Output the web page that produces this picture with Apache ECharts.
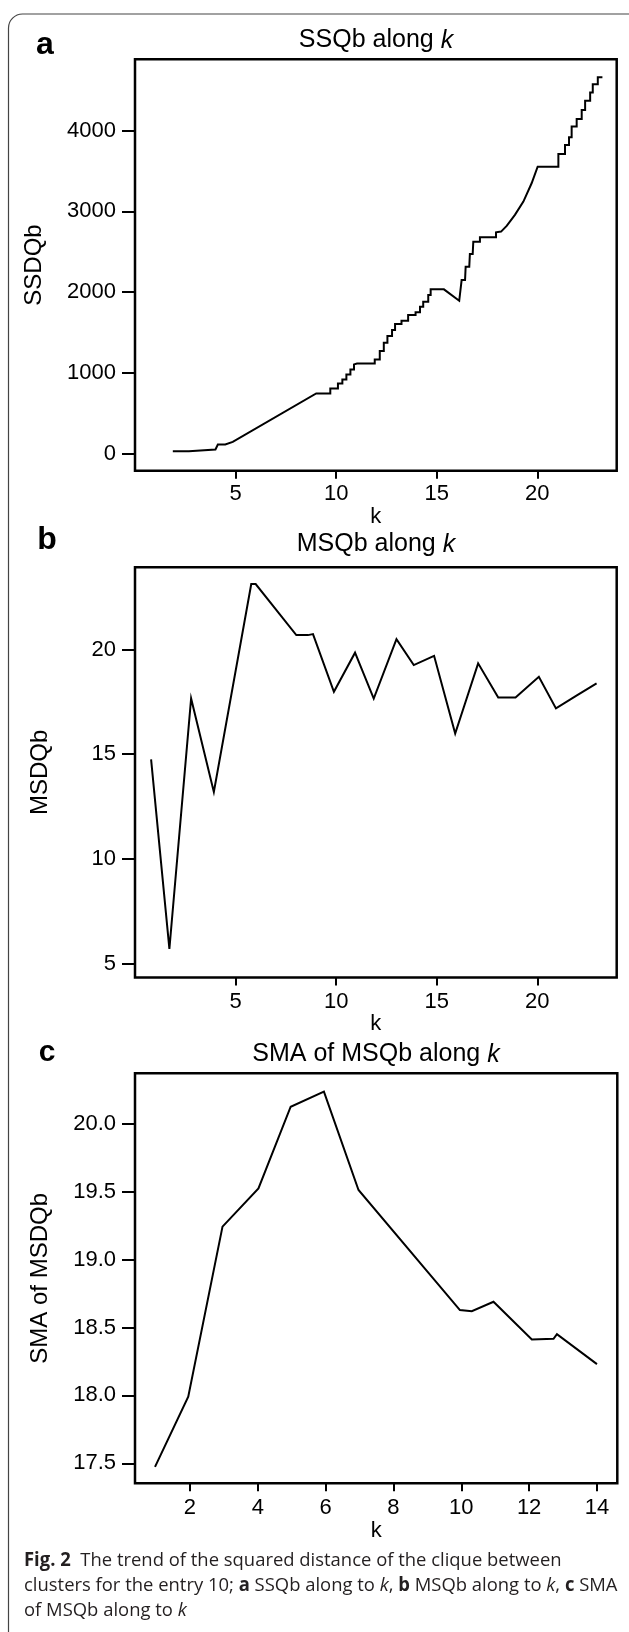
<!DOCTYPE html>
<html>
<head>
<meta charset="utf-8">
<title>SSQb, MSQb and SMA along k</title>
<script src="https://cdn.jsdelivr.net/npm/echarts@6.0.0/dist/echarts.min.js"></script>
<style>
  html, body { margin: 0; padding: 0; background: #fff; }
  #chart { width: 629px; height: 1632px; }
</style>
</head>
<body>
<div id="chart"></div>
<script>
// ---- data ----
// a: SSQb along k (step curve)
var kA = [1.88, 2.68, 2.71, 4.0, 4.12, 4.49, 4.86, 9.01, 9.71, 9.71, 10.09, 10.09, 10.31, 10.31, 10.51, 10.51,
  10.71, 10.71, 10.89, 10.89, 11.04, 11.92, 11.92, 12.17, 12.17, 12.37, 12.37, 12.55, 12.55, 12.78, 12.78,
  12.93, 12.93, 13.25, 13.25, 13.58, 13.58, 13.95, 13.95, 14.17, 14.17, 14.33, 14.33, 14.58, 14.58, 14.70,
  14.70, 15.36, 16.12, 16.24, 16.41, 16.44, 16.62, 16.65, 16.79, 16.82, 17.15, 17.15, 17.95, 17.95, 18.20,
  18.48, 18.89, 19.31, 19.72, 20.02, 21.05, 21.05, 21.38, 21.38, 21.58, 21.58, 21.71, 21.71, 21.96, 21.96,
  22.21, 22.21, 22.38, 22.38, 22.63, 22.63, 22.76, 22.76, 23.01, 23.01, 23.24];
var ssqA = [28, 28, 49, 49, 111, 111, 144, 744, 744, 806, 806, 868, 868, 918, 918, 980,
  980, 1042, 1042, 1104, 1116, 1116, 1166, 1166, 1269, 1269, 1373, 1373, 1455, 1455, 1530,
  1530, 1604, 1604, 1645, 1645, 1716, 1716, 1749, 1749, 1819, 1819, 1881, 1881, 1964, 1964,
  2034, 2034, 1893, 2149, 2149, 2315, 2315, 2472, 2472, 2625, 2625, 2679, 2679, 2741, 2750,
  2820, 2957, 3122, 3349, 3555, 3555, 3712, 3712, 3824, 3824, 3919, 3919, 4051, 4051, 4146,
  4146, 4258, 4258, 4370, 4370, 4473, 4473, 4576, 4576, 4663, 4663];

// b: MSQb along k
var kB = [0.80, 1.71, 2.79, 3.92, 5.78, 6.00, 8.02, 8.60, 8.85, 9.89, 10.94, 11.87, 13.00, 13.86,
  14.87, 15.92, 17.06, 18.06, 18.92, 20.08, 20.93, 21.99, 22.95];
var msqB = [14.75, 5.70, 17.66, 13.20, 23.13, 23.13, 20.69, 20.69, 20.74, 17.98, 19.85, 17.66, 20.50, 19.26,
  19.70, 15.99, 19.34, 17.71, 17.71, 18.70, 17.19, 17.82, 18.38];

// c: SMA of MSQb along k
var kC = [0.97, 1.95, 2.96, 4.02, 4.97, 5.95, 6.97, 9.96, 10.31, 10.95, 12.08, 12.72, 12.82, 14.00];
var smaC = [17.474, 17.99, 19.242, 19.524, 20.125, 20.236, 19.512, 18.628, 18.62, 18.689, 18.412, 18.417,
  18.451, 18.23];

// tick values
var xTicksAB = [5, 10, 15, 20];
var xTicksC = [2, 4, 6, 8, 10, 12, 14];
var yTicksA = [0, 1000, 2000, 3000, 4000];
var yTicksB = [5, 10, 15, 20];
var yTicksC = [17.5, 18.0, 18.5, 19.0, 19.5, 20.0];

var FONT = "'Liberation Sans', Arial, Helvetica, sans-serif";
var CAP_FONT = "'Open Sans', 'Noto Sans', sans-serif";

function pairs(xs, ys) {
  return xs.map(function (x, i) { return [x, ys[i]]; });
}

function xAxisFor(idx, min, max, ticks, margin, gap) {
  return {
    type: 'value', gridIndex: idx, min: min, max: max,
    name: 'k', nameLocation: 'middle', nameGap: gap,
    nameTextStyle: { fontFamily: FONT, fontSize: 22, color: '#000' },
    axisLine: { show: false, onZero: false },
    axisTick: { show: true, length: 8, customValues: ticks, lineStyle: { color: '#000', width: 2 } },
    axisLabel: { customValues: ticks, margin: margin, fontFamily: FONT, fontSize: 22, color: '#000' },
    splitLine: { show: false }
  };
}

function yAxisFor(idx, min, max, ticks, name, gap, fmt) {
  return {
    type: 'value', gridIndex: idx, min: min, max: max,
    name: name, nameLocation: 'middle', nameGap: gap, nameRotate: 90,
    nameTextStyle: { fontFamily: FONT, fontSize: 24, color: '#000' },
    axisLine: { show: false, onZero: false },
    axisTick: { show: true, length: 13, customValues: ticks, lineStyle: { color: '#000', width: 2 } },
    axisLabel: { customValues: ticks, margin: 19, fontFamily: FONT, fontSize: 22, color: '#000', formatter: fmt },
    splitLine: { show: false }
  };
}

function lineSeries(idx, data) {
  return {
    type: 'line', xAxisIndex: idx, yAxisIndex: idx, data: data,
    showSymbol: false, symbol: 'none', silent: true,
    lineStyle: { color: '#000', width: 2, join: 'miter' }
  };
}

function label(text, x, y, size, weight) {
  return {
    type: 'text', x: x, y: y, silent: true,
    style: {
      text: text, fill: '#000', fontFamily: FONT, fontSize: size, fontWeight: weight || 'normal',
      align: 'center', verticalAlign: 'middle',
      rich: { i: { fontStyle: 'italic', fontFamily: FONT, fontSize: size, fill: '#000' } }
    }
  };
}

var capRich = {
  b: { fontWeight: 'bold', fontFamily: CAP_FONT, fontSize: 19, fill: '#231f20' },
  i: { fontStyle: 'italic', fontFamily: CAP_FONT, fontSize: 19, fill: '#231f20' }
};

function captionLine(text, y) {
  return {
    type: 'text', x: 24, y: y, scaleX: 0.97, silent: true,
    style: {
      text: text, fill: '#231f20', fontFamily: CAP_FONT, fontSize: 19,
      align: 'left', verticalAlign: 'middle', rich: capRich
    }
  };
}

var chart = echarts.init(document.getElementById('chart'), null, { renderer: 'canvas' });

var gridStyle = { show: true, borderColor: '#000', borderWidth: 2.5, backgroundColor: 'transparent' };

chart.setOption({
  animation: false,
  backgroundColor: '#fff',
  grid: [
    Object.assign({ left: 135, top: 59.3, width: 481.7, height: 411.4 }, gridStyle),
    Object.assign({ left: 135, top: 567.3, width: 481.7, height: 410.2 }, gridStyle),
    Object.assign({ left: 135, top: 1073.3, width: 482.3, height: 410 }, gridStyle)
  ],
  xAxis: [
    xAxisFor(0, 0, 23.95, xTicksAB, 12, 30),
    xAxisFor(1, 0, 23.95, xTicksAB, 13, 30.5),
    xAxisFor(2, 0.38, 14.6, xTicksC, 14, 36)
  ],
  yAxis: [
    yAxisFor(0, -213, 4885, yTicksA, 'SSDQb', 89, function (v) { return String(v); }),
    yAxisFor(1, 4.33, 23.93, yTicksB, 'MSDQb', 83, function (v) { return String(v); }),
    yAxisFor(2, 17.353, 20.371, yTicksC, 'SMA of MSDQb', 83, function (v) { return v.toFixed(1); })
  ],
  series: [
    lineSeries(0, pairs(kA, ssqA)),
    lineSeries(1, pairs(kB, msqB)),
    lineSeries(2, pairs(kC, smaC))
  ],
  graphic: [
    // rounded frame of the figure box
    {
      type: 'rect', silent: true, z: -10,
      shape: { x: 8.5, y: 14, width: 700, height: 1700, r: 14 },
      style: { fill: 'none', stroke: '#444', lineWidth: 1.2 }
    },
    // panel titles
    label('SSQb along {i|k}', 376, 40.6, 25),
    label('MSQb along {i|k}', 376, 544.6, 25),
    label('SMA of MSQb along {i|k}', 376, 1054.6, 25),
    // panel letters
    label('a', 45, 45.6, 32, 'bold'),
    label('b', 47, 540.5, 32, 'bold'),
    label('c', 47, 1052.8, 30, 'bold'),
    // caption
    captionLine('{b|Fig. 2}  The trend of the squared distance of the clique between', 1560.6),
    captionLine('clusters for the entry 10; {b|a} SSQb along to {i|k}, {b|b} MSQb along to {i|k}, {b|c} SMA', 1586),
    captionLine('of MSQb along to {i|k}', 1610.6)
  ]
});
</script>
</body>
</html>
